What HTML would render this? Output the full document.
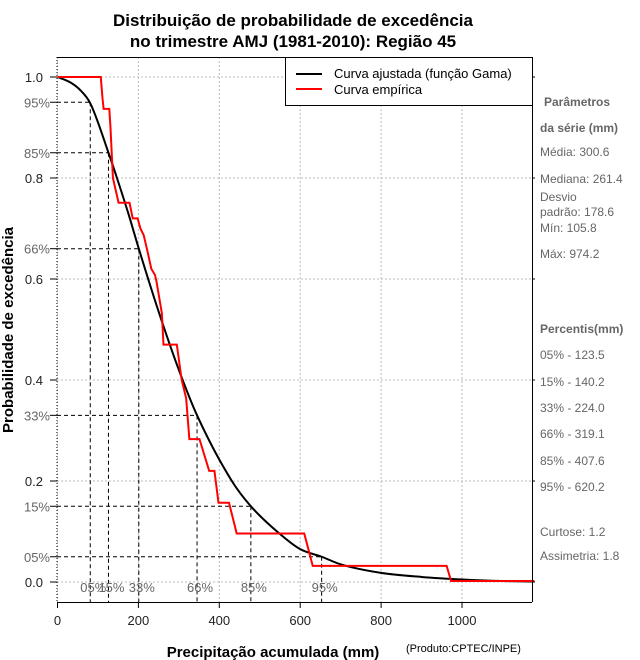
<!DOCTYPE html>
<html><head><meta charset="utf-8">
<style>
html,body{margin:0;padding:0;background:#fff;}
svg{display:block;font-family:"Liberation Sans",sans-serif;}
</style></head>
<body>
<svg id="chart" width="640" height="660" viewBox="0 0 640 660" xmlns="http://www.w3.org/2000/svg">
<rect x="0" y="0" width="640" height="660" fill="#fff"/>
<text x="293" y="26" text-anchor="middle" font-size="17" font-weight="bold">Distribuição de probabilidade de excedência</text>
<text x="293" y="47" text-anchor="middle" font-size="17" font-weight="bold">no trimestre AMJ (1981-2010): Região 45</text>
<g id="grid"></g>
<g id="guides"></g>
<g id="series"></g>
<g id="axes"></g>
<text x="273" y="657" text-anchor="middle" font-size="15" font-weight="bold">Precipitação acumulada (mm)</text>
<text transform="translate(13,330) rotate(-90)" text-anchor="middle" font-size="15" font-weight="bold">Probabilidade de excedência</text>
<text x="406" y="652" font-size="11">(Produto:CPTEC/INPE)</text>
<g>
<rect x="285.5" y="57.5" width="247" height="48" fill="#fff" stroke="#000" stroke-width="1"/>
<line x1="296" y1="74" x2="322" y2="74" stroke="#000" stroke-width="2"/>
<text x="334" y="78" font-size="13">Curva ajustada (função Gama)</text>
<line x1="296" y1="89" x2="322" y2="89" stroke="#f00" stroke-width="2"/>
<text x="334" y="94" font-size="13">Curva empírica</text>
</g>
<g font-size="12" fill="#666">
<text x="544" y="106" font-weight="bold">Parâmetros</text>
<text x="540" y="132" font-weight="bold">da série (mm)</text>
<text x="540" y="156">Média: 300.6</text>
<text x="540" y="183">Mediana: 261.4</text>
<text x="540" y="201">Desvio</text>
<text x="540" y="216">padrão: 178.6</text>
<text x="540" y="232">Mín: 105.8</text>
<text x="540" y="258">Máx: 974.2</text>
<text x="540" y="333" font-weight="bold">Percentis(mm)</text>
<text x="540" y="359">05% - 123.5</text>
<text x="540" y="386">15% - 140.2</text>
<text x="540" y="412">33% - 224.0</text>
<text x="540" y="438">66% - 319.1</text>
<text x="540" y="465">85% - 407.6</text>
<text x="540" y="491">95% - 620.2</text>
<text x="540" y="536">Curtose: 1.2</text>
<text x="540" y="560">Assimetria: 1.8</text>
</g>
</svg>
<script>
const xTicks = [0, 200, 400, 600, 800, 1000];
const yTicks = [0, 0.2, 0.4, 0.6, 0.8, 1.0];
const yTickLabels = ["0.0", "0.2", "0.4", "0.6", "0.8", "1.0"];
const pctLevels = [0.95, 0.85, 0.66, 0.33, 0.15, 0.05];
const pctLabels = ["95%", "85%", "66%", "33%", "15%", "05%"];
const pctXLabels = ["05%", "15%", "33%", "66%", "85%", "95%"];
const pctQuantiles = [81, 126, 201, 345, 478, 653];
const gammaX = [0, 30, 55, 81, 126, 147, 175, 201, 251, 300, 345, 431, 478, 550, 600, 653, 700, 800, 900, 1000, 1100, 1179];
const gammaY = [1.0, 0.99, 0.975, 0.948, 0.85, 0.80, 0.73, 0.66, 0.533, 0.42, 0.33, 0.20, 0.15, 0.095, 0.065, 0.05, 0.035, 0.018, 0.010, 0.005, 0.002, 0.001];
const empX = [0, 107, 111, 114, 128, 131, 137, 151, 178, 186, 198, 205, 213, 221, 232, 241, 245, 258, 262, 295, 307, 318, 326, 351, 375, 388, 398, 424, 443, 610, 631, 962, 973, 1179];
const empY = [1.0, 1.0, 0.96, 0.937, 0.937, 0.90, 0.80, 0.751, 0.751, 0.72, 0.72, 0.70, 0.687, 0.66, 0.62, 0.608, 0.594, 0.532, 0.47, 0.47, 0.40, 0.364, 0.283, 0.283, 0.220, 0.220, 0.157, 0.157, 0.096, 0.096, 0.032, 0.032, 0.002, 0.002];

const X0 = 57.5, XS = 0.4045, Y0 = 582, YS = 505;
const PL = 57, PR = 532, PT = 57, PB = 602;
function sx(v){ return X0 + v*XS; }
function sy(v){ return Y0 - v*YS; }
const NS = "http://www.w3.org/2000/svg";
function mk(tag, attrs, parent){ const e = document.createElementNS(NS, tag); for (const k in attrs) e.setAttribute(k, attrs[k]); parent.appendChild(e); return e; }
const grid = document.getElementById('grid'), axes = document.getElementById('axes'), guides = document.getElementById('guides'), series = document.getElementById('series');

xTicks.forEach(function(t){
  const l = mk('line', {x1: sx(t), x2: sx(t), y1: PT, y2: PB, stroke: '#bbb', 'stroke-dasharray': '2,2'}, grid);
  
  
  const k = mk('line', {x1: sx(t), x2: sx(t), y1: PB, y2: PB+6, stroke: '#000'}, axes);
  
  
  const tx = mk('text', {x: sx(t), y: PB+23, 'text-anchor': 'middle', 'font-size': 13, fill: '#222'}, axes);
  tx.textContent = t;
  
  
});
yTicks.forEach(function(t, i){
  const l = mk('line', {x1: PL, x2: PR, y1: sy(t), y2: sy(t), stroke: '#bbb', 'stroke-dasharray': '2,2'}, grid);
  
  
  const k = mk('line', {x1: PL-7, x2: PL, y1: sy(t), y2: sy(t), stroke: '#000'}, axes);
  
  
  const k2 = mk('line', {x1: PR, x2: PR+3, y1: sy(t), y2: sy(t), stroke: '#000'}, axes);
  
  
  const tx = mk('text', {x: 43, y: sy(t)+5, 'text-anchor': 'end', 'font-size': 13, fill: '#222'}, axes);
  tx.textContent = yTickLabels[i];
  
  
});
pctLevels.forEach(function(p, i){
  const q = pctQuantiles[i];
  const h = mk('line', {x1: PL, x2: sx(q), y1: sy(p), y2: sy(p), stroke: '#000', 'stroke-dasharray': '4,3'}, guides);
  
  
  const v = mk('line', {x1: sx(q), x2: sx(q), y1: sy(p), y2: PB, stroke: '#000', 'stroke-dasharray': '4,3'}, guides);
  
  
  const k = mk('line', {x1: PL-7, x2: PL, y1: sy(p), y2: sy(p), stroke: '#000'}, axes);
  
  
  const tl = mk('text', {x: 50, y: sy(p)+5, 'text-anchor': 'end', 'font-size': 13, fill: '#666'}, axes);
  tl.textContent = pctLabels[i];
  
  
  const xl = mk('text', {x: sx(q)+3, y: 592, 'text-anchor': 'middle', 'font-size': 13, fill: '#666'}, guides);
  xl.textContent = pctXLabels[i];
  
  
});

function monotone(xs, ys){
  const n = xs.length, d = [], m = [];
  for (let i=0;i<n-1;i++) d.push((ys[i+1]-ys[i])/(xs[i+1]-xs[i]));
  m.push(d[0]);
  for (let i=1;i<n-1;i++) m.push(d[i-1]*d[i] <= 0 ? 0 : (d[i-1]+d[i])/2);
  m.push(d[n-2]);
  for (let i=0;i<n-1;i++){ if (d[i]===0){m[i]=0;m[i+1]=0;continue;} const a=m[i]/d[i], b=m[i+1]/d[i], s=a*a+b*b; if (s>9){const t=3/Math.sqrt(s); m[i]=t*a*d[i]; m[i+1]=t*b*d[i];} }
  let path = 'M' + sx(xs[0]) + ',' + sy(ys[0]);
  for (let i=0;i<n-1;i++){ const h = xs[i+1]-xs[i];
    path += ' C' + sx(xs[i]+h/3) + ',' + sy(ys[i]+m[i]*h/3) + ' ' + sx(xs[i+1]-h/3) + ',' + sy(ys[i+1]-m[i+1]*h/3) + ' ' + sx(xs[i+1]) + ',' + sy(ys[i+1]); }
  return path;
}
const g = mk('path', {d: monotone(gammaX, gammaY), fill: 'none', stroke: '#000', 'stroke-width': 2}, series);


const e = mk('polyline', {points: empX.map(function(x,i){ return sx(x)+','+sy(empY[i]); }).join(' '), fill: 'none', stroke: '#f00', 'stroke-width': 2}, series);



const la = mk('line', {x1: PL, x2: PL, y1: PT, y2: PB, stroke: '#000', 'stroke-dasharray': '1,2'}, axes);


const ba = mk('line', {x1: PL, x2: PR, y1: PB+0.5, y2: PB+0.5, stroke: '#000'}, axes);


const ta = mk('line', {x1: PL, x2: PR, y1: PT+0.5, y2: PT+0.5, stroke: '#000'}, axes);


const ra = mk('line', {x1: PR+0.5, x2: PR+0.5, y1: PT, y2: PB, stroke: '#000'}, axes);


</script>
</body></html>
